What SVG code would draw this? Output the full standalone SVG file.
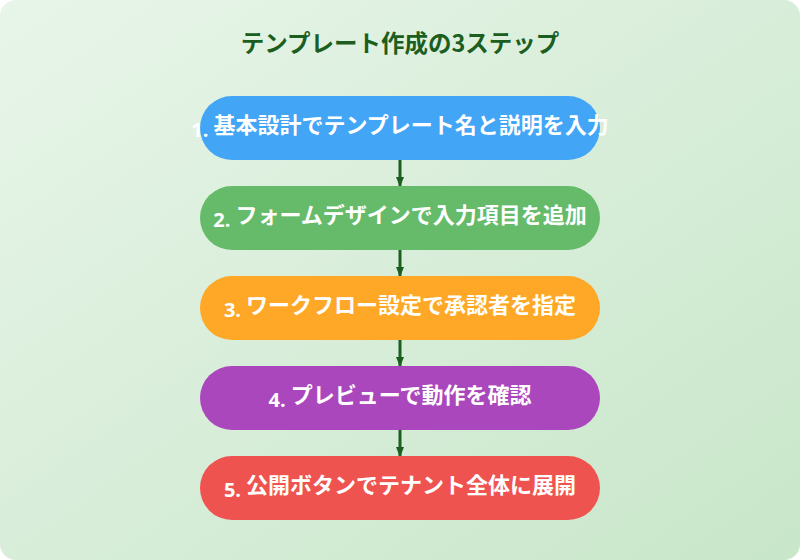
<svg xmlns="http://www.w3.org/2000/svg" width="800" height="560" viewBox="0 0 800 560">
<defs>
<linearGradient id="bg" x1="0" y1="0" x2="1" y2="1"><stop offset="0" stop-color="#e8f5e9"/><stop offset="1" stop-color="#c8e6c9"/></linearGradient>
<marker id="ah" markerWidth="10" markerHeight="8" refX="9" refY="4" orient="auto" markerUnits="userSpaceOnUse"><path d="M0,0 L10,4 L0,8 z" fill="#1b5e20"/></marker>
<style>
.t{font-family:"Noto Sans CJK JP","Noto Sans",sans-serif;font-weight:bold;font-size:22px;fill:#fff;text-anchor:middle}
.n{font-family:"Open Sans","Noto Sans",sans-serif;font-weight:bold;font-size:20px}
.c{stroke:#1b5e20;stroke-width:3;fill:none;marker-end:url(#ah)}
</style>
</defs>
<rect x="0" y="0" width="800" height="560" rx="16" fill="url(#bg)"/>
<text x="400" y="52" style="font-family:'Noto Sans CJK JP',sans-serif;font-weight:bold;font-size:23.5px;fill:#1b5e20;text-anchor:middle">テンプレート作成の3ステップ</text>
<g id="connectors">
<line class="c" x1="400" y1="160" x2="400" y2="186"/>
<line class="c" x1="400" y1="250" x2="400" y2="276"/>
<line class="c" x1="400" y1="340" x2="400" y2="366"/>
<line class="c" x1="400" y1="430" x2="400" y2="456"/>
</g>
<g id="step1"><rect x="200" y="96" width="400" height="64" rx="32" fill="#42a5f5"/><text class="t" x="400" y="133"><tspan class="n" dy="4">1.</tspan><tspan dy="-4"> 基本設計でテンプレート名と説明を入力</tspan></text></g>
<g id="step2"><rect x="200" y="186" width="400" height="64" rx="32" fill="#66bb6a"/><text class="t" x="400" y="223"><tspan class="n" dy="4">2.</tspan><tspan dy="-4"> フォームデザインで入力項目を追加</tspan></text></g>
<g id="step3"><rect x="200" y="276" width="400" height="64" rx="32" fill="#ffa726"/><text class="t" x="400" y="313"><tspan class="n" dy="4">3.</tspan><tspan dy="-4"> ワークフロー設定で承認者を指定</tspan></text></g>
<g id="step4"><rect x="200" y="366" width="400" height="64" rx="32" fill="#ab47bc"/><text class="t" x="400" y="403"><tspan class="n" dy="4">4.</tspan><tspan dy="-4"> プレビューで動作を確認</tspan></text></g>
<g id="step5"><rect x="200" y="456" width="400" height="64" rx="32" fill="#ef5350"/><text class="t" x="400" y="493"><tspan class="n" dy="4">5.</tspan><tspan dy="-4"> 公開ボタンでテナント全体に展開</tspan></text></g>
</svg>
